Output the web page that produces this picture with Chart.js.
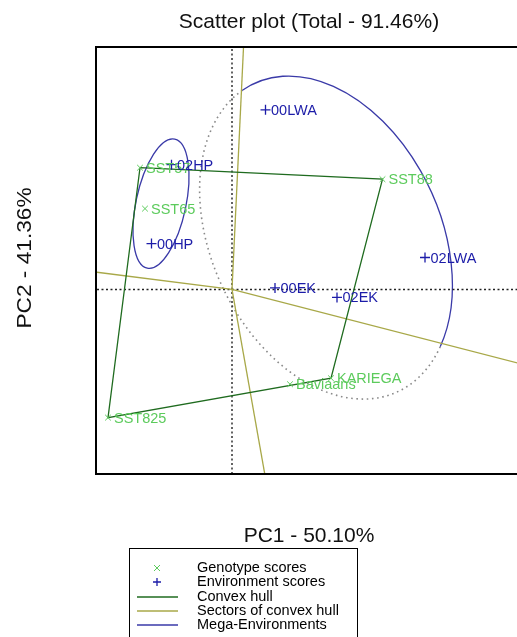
<!DOCTYPE html>
<html>
<head>
<meta charset="utf-8">
<script src="https://cdn.jsdelivr.net/npm/chart.js@4"></script>
<style>
html,body{margin:0;padding:0;overflow:hidden;background:#fff;width:517px;height:637px;}
canvas{display:block;}
</style>
</head>
<body>
<canvas id="c" width="540" height="637"></canvas>
<script>
// ---- data ----
const genotypes = ["SST57", "SST88", "SST65", "SST825", "KARIEGA", "Baviaans"];
const genoX = [-1.84, 3.01, -1.74, -2.48, 1.98, 1.16];
const genoY = [2.44, 2.21, 1.62, -2.57, -1.78, -1.90];
const environments = ["00LWA", "02HP", "00HP", "00EK", "02EK", "02LWA"];
const envX = [0.67, -1.21, -1.61, 0.86, 2.10, 3.86];
const envY = [3.60, 2.50, 0.92, 0.03, -0.16, 0.64];
const hullOrder = [0, 1, 4, 3];           // convex hull vertices (genotype indices)
const megaCX = [-1.42, 1.88];             // mega-environment ellipses
const megaCY = [1.72, 1.04];
const megaRX = [1.32, 3.4];
const megaRY = [0.5, 2.3];
const megaRot = [102, 65];                // degrees
const megaSolidFrom = [0, 173];           // parametric angles of solid part
const megaSolidTo = [360, 330];
const xRange = [-2.7, 5.78];
const yRange = [-3.7, 4.86];
const titleText = "Scatter plot (Total - 91.46%)";
const xTitle = "PC1 - 50.10%";
const yTitle = "PC2 - 41.36%";
const legendLabels = ["Genotype scores", "Environment scores", "Convex hull", "Sectors of convex hull", "Mega-Environments"];

const cGeno = "#5ccb5c", cEnv = "#1c1ca8", cHull = "#1f6b1f", cSector = "#a8a848", cMega = "#3a3aa8", cDot = "#8a8a8a";
const FONT = "'Liberation Sans', Arial, Helvetica, sans-serif";

const genoPts = genoX.map((x, i) => ({x, y: genoY[i]}));
const envPts = envX.map((x, i) => ({x, y: envY[i]}));
const hullPts = hullOrder.concat([hullOrder[0]]).map(i => genoPts[i]);

// sector lines: from origin perpendicular to each hull edge
const sectorSets = [];
for (let k = 0; k < hullOrder.length; k++) {
  const p1 = genoPts[hullOrder[k]], p2 = genoPts[hullOrder[(k + 1) % hullOrder.length]];
  const dx = p2.x - p1.x, dy = p2.y - p1.y;
  const t = -(p1.x * dx + p1.y * dy) / (dx * dx + dy * dy);
  const fx = p1.x + t * dx, fy = p1.y + t * dy;
  const L = Math.hypot(fx, fy);
  sectorSets.push({
    type: 'line', data: [{x: 0, y: 0}, {x: fx / L * 30, y: fy / L * 30}],
    borderColor: cSector, borderWidth: 1.3, pointRadius: 0, fill: false, order: 3
  });
}

const overlay = {
  id: 'overlay',
  beforeDatasetsDraw(chart) {
    const {ctx, chartArea: a, scales: {x, y}} = chart;
    ctx.save();
    ctx.beginPath(); ctx.rect(a.left, a.top, a.right - a.left, a.bottom - a.top); ctx.clip();
    const pxU = x.getPixelForValue(1) - x.getPixelForValue(0);
    const pyU = y.getPixelForValue(0) - y.getPixelForValue(1);
    for (let i = 0; i < megaCX.length; i++) {
      const cx = x.getPixelForValue(megaCX[i]), cy = y.getPixelForValue(megaCY[i]);
      const rx = megaRX[i] * pxU, ry = megaRY[i] * pyU, rot = megaRot[i] * Math.PI / 180;
      const s = megaSolidFrom[i] * Math.PI / 180, e = megaSolidTo[i] * Math.PI / 180;
      ctx.beginPath(); ctx.setLineDash([]); ctx.strokeStyle = cMega; ctx.lineWidth = 1.3;
      ctx.ellipse(cx, cy, rx, ry, rot, s, e); ctx.stroke();
      if (megaSolidTo[i] - megaSolidFrom[i] < 360) {
        ctx.beginPath(); ctx.setLineDash([1.6, 3.6]); ctx.strokeStyle = cDot; ctx.lineWidth = 1.6;
        ctx.ellipse(cx, cy, rx, ry, rot, e, s + 2 * Math.PI); ctx.stroke();
      }
    }
    ctx.restore();
  },
  afterDatasetsDraw(chart) {
    const {ctx, chartArea: a, scales: {x, y}} = chart;
    ctx.save();
    ctx.beginPath(); ctx.rect(a.left, a.top, a.right - a.left, a.bottom - a.top); ctx.clip();
    ctx.font = "14.5px " + FONT; ctx.textBaseline = 'middle'; ctx.textAlign = 'left';
    ctx.fillStyle = cGeno;
    genoPts.forEach((p, i) => ctx.fillText(genotypes[i], x.getPixelForValue(p.x) + 6, y.getPixelForValue(p.y) + 1));
    ctx.fillStyle = cEnv;
    envPts.forEach((p, i) => ctx.fillText(environments[i], x.getPixelForValue(p.x) + 5.5, y.getPixelForValue(p.y) + 1));
    ctx.restore();
  },
  afterDraw(chart) {
    const {ctx, chartArea: a} = chart;
    ctx.save();
    ctx.strokeStyle = '#000'; ctx.lineWidth = 2; ctx.setLineDash([]);
    ctx.strokeRect(a.left - 1, a.top, a.right - a.left + 1, a.bottom - a.top);
    ctx.fillStyle = '#111';
    ctx.font = "21px " + FONT; ctx.textAlign = 'center'; ctx.textBaseline = 'alphabetic';
    const cxm = (a.left + a.right) / 2;
    ctx.fillText(titleText, cxm, 28);
    ctx.fillText(xTitle, cxm, 542);
    ctx.save(); ctx.translate(31, 258); ctx.rotate(-Math.PI / 2); ctx.scale(1.08, 1);
    ctx.fillText(yTitle, 0, 0); ctx.restore();
    // legend
    ctx.strokeStyle = '#000'; ctx.lineWidth = 1;
    ctx.strokeRect(129.5, 548.5, 228, 120);
    const rows = [568, 582, 597, 611, 625];
    ctx.font = "14.5px " + FONT; ctx.textAlign = 'left'; ctx.textBaseline = 'middle'; ctx.fillStyle = '#000';
    legendLabels.forEach((t, i) => ctx.fillText(t, 197, rows[i]));
    // symbols
    ctx.lineWidth = 1;
    ctx.strokeStyle = cGeno; ctx.beginPath();
    ctx.moveTo(154, rows[0] - 3); ctx.lineTo(160, rows[0] + 3); ctx.moveTo(160, rows[0] - 3); ctx.lineTo(154, rows[0] + 3); ctx.stroke();
    ctx.strokeStyle = cEnv; ctx.lineWidth = 1.3; ctx.beginPath();
    ctx.moveTo(153, rows[1]); ctx.lineTo(161, rows[1]); ctx.moveTo(157, rows[1] - 4); ctx.lineTo(157, rows[1] + 4); ctx.stroke();
    [[cHull, 2], [cSector, 3], [cMega, 4]].forEach(([c, r]) => {
      ctx.strokeStyle = c; ctx.lineWidth = 1.3; ctx.beginPath();
      ctx.moveTo(137, rows[r]); ctx.lineTo(178, rows[r]); ctx.stroke();
    });
    ctx.restore();
  }
};

new Chart(document.getElementById('c'), {
  type: 'scatter',
  data: {
    datasets: [
      {type: 'line', data: [{x: xRange[0], y: 0}, {x: xRange[1], y: 0}], borderColor: '#222', borderWidth: 1.4, borderDash: [2, 2.5], pointRadius: 0, order: 5},
      {type: 'line', data: [{x: 0, y: yRange[0]}, {x: 0, y: yRange[1]}], borderColor: '#222', borderWidth: 1.4, borderDash: [2, 2.5], pointRadius: 0, order: 5},
      ...sectorSets,
      {type: 'line', data: hullPts, borderColor: cHull, borderWidth: 1.3, pointRadius: 0, fill: false, order: 2},
      {label: 'Genotype scores', data: genoPts, pointStyle: 'crossRot', pointRadius: 4, borderColor: cGeno, borderWidth: 1, order: 1},
      {label: 'Environment scores', data: envPts, pointStyle: 'cross', pointRadius: 5, borderColor: cEnv, borderWidth: 1.3, order: 0}
    ]
  },
  options: {
    responsive: false, animation: false, devicePixelRatio: 1,
    layout: {padding: {left: 97, top: 47, right: 19, bottom: 163}},
    plugins: {legend: {display: false}, title: {display: false}, tooltip: {enabled: false}},
    scales: {
      x: {type: 'linear', min: xRange[0], max: xRange[1], display: false},
      y: {type: 'linear', min: yRange[0], max: yRange[1], display: false}
    }
  },
  plugins: [overlay]
});
</script>
</body>
</html>
